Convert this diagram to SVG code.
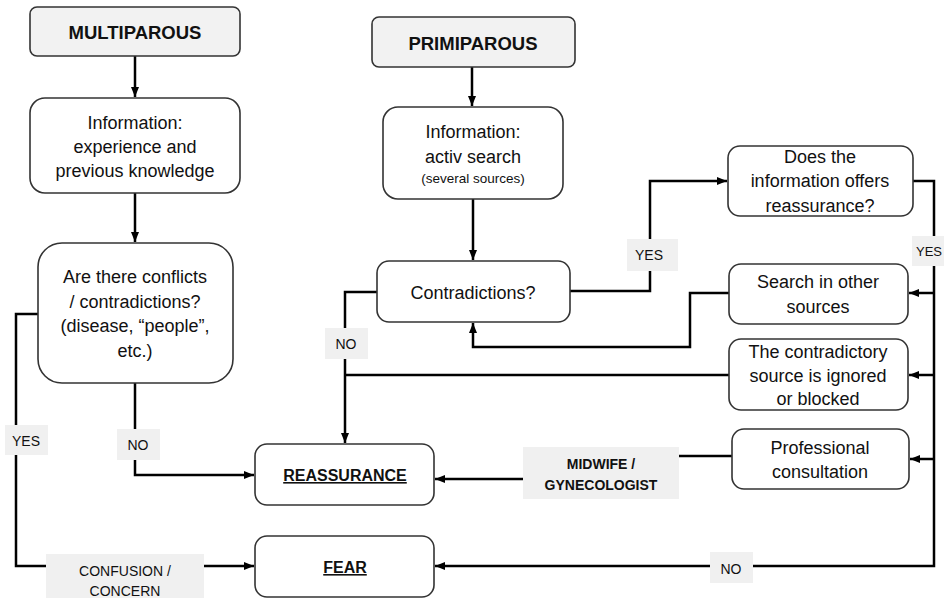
<svg xmlns="http://www.w3.org/2000/svg" width="944" height="598" viewBox="0 0 944 598">
  <defs>
    <marker id="arr" viewBox="0 0 10 10" refX="10" refY="5" markerWidth="4" markerHeight="4" orient="auto-start-reverse" markerUnits="strokeWidth">
      <path d="M0,1 L10,5 L0,9 z" fill="#000"/>
    </marker>
    <style>
      .box { fill: #fff; stroke: #333; stroke-width: 1.6; }
      .head { fill: #f2f2f2; stroke: #333; stroke-width: 1.6; }
      .lab { fill: #f0f0f0; stroke: none; }
      .t { font-family: "Liberation Sans", Arial, sans-serif; font-size: 18px; fill: #111; text-anchor: middle; }
      .b { font-weight: bold; }
      .s { font-size: 13.5px; }
      .l { font-family: "Liberation Sans", Arial, sans-serif; font-size: 14px; fill: #111; text-anchor: middle; }
      .u { text-decoration: underline; }
      .c { fill: none; stroke: #000; stroke-width: 2.5; }
    </style>
  </defs>
  <rect width="944" height="598" fill="#fff"/>

  <!-- connectors -->
  <g id="connectors">
    <path class="c" d="M135,56 V97" marker-end="url(#arr)"/>
    <path class="c" d="M472,67 V106" marker-end="url(#arr)"/>
    <path class="c" d="M135,193 V242" marker-end="url(#arr)"/>
    <path class="c" d="M473,199 V260" marker-end="url(#arr)"/>
    <!-- conflicts: YES -> fear -->
    <path class="c" d="M38,314 H16 V566 H254" marker-end="url(#arr)"/>
    <!-- conflicts: NO -> reassurance -->
    <path class="c" d="M135,383 V475 H254" marker-end="url(#arr)"/>
    <!-- contradictions: NO -> reassurance -->
    <path class="c" d="M377,292 H345 V443" marker-end="url(#arr)"/>
    <!-- contradictions: YES -> does the information -->
    <path class="c" d="M570,291 H650 V181 H727" marker-end="url(#arr)"/>
    <!-- right trunk -->
    <path class="c" d="M913,181 H934 V566 H435" marker-end="url(#arr)"/>
    <path class="c" d="M934,293 H909" marker-end="url(#arr)"/>
    <path class="c" d="M934,375 H909" marker-end="url(#arr)"/>
    <path class="c" d="M934,459 H910" marker-end="url(#arr)"/>
    <!-- search in other sources -> contradictions -->
    <path class="c" d="M729,293 H690 V347 H473 V323" marker-end="url(#arr)"/>
    <!-- ignored source -> no branch -->
    <path class="c" d="M729,375 H345"/>
    <!-- professional consultation -> reassurance -->
    <path class="c" d="M732,456 H679"/>
    <path class="c" d="M523,479 H435" marker-end="url(#arr)"/>
  </g>

  <!-- edge labels -->
  <g id="labels">
    <rect class="lab" x="5" y="425" width="43" height="30"/>
    <text class="l" x="26" y="446">YES</text>
    <rect class="lab" x="117" y="429" width="43" height="31"/>
    <text class="l" x="138" y="450">NO</text>
    <rect class="lab" x="325" y="328" width="43" height="31"/>
    <text class="l" x="346" y="349">NO</text>
    <rect class="lab" x="627" y="239" width="51" height="32"/>
    <text class="l" x="649" y="260">YES</text>
    <rect class="lab" x="912" y="236" width="32" height="30"/>
    <text class="l" x="916" y="256" style="text-anchor:start;font-size:13px">YES</text>
    <rect class="lab" x="46" y="554" width="158" height="50"/>
    <text class="l" x="125" y="576">CONFUSION /</text>
    <text class="l" x="125" y="596">CONCERN</text>
    <rect class="lab" x="523" y="447" width="156" height="52"/>
    <text class="l b" x="601" y="469">MIDWIFE /</text>
    <text class="l b" x="601" y="490">GYNECOLOGIST</text>
    <rect class="lab" x="710" y="552" width="43" height="31"/>
    <text class="l" x="731" y="574">NO</text>
  </g>

  <g id="multiparous">
    <rect class="head" x="30" y="7" width="210" height="49" rx="7"/>
    <text class="t b" x="135" y="39" style="font-size:18.5px">MULTIPAROUS</text>
  </g>

  <g id="primiparous">
    <rect class="head" x="372" y="17" width="203" height="50" rx="7"/>
    <text class="t b" x="473" y="50" style="font-size:18.5px">PRIMIPAROUS</text>
  </g>

  <g id="info-experience">
    <rect class="box" x="30" y="98" width="210" height="95" rx="15"/>
    <text class="t" x="135" y="129">Information:</text>
    <text class="t" x="135" y="153">experience and</text>
    <text class="t" x="135" y="177">previous knowledge</text>
  </g>

  <g id="info-search">
    <rect class="box" x="383" y="107" width="180" height="92" rx="15"/>
    <text class="t" x="473" y="138">Information:</text>
    <text class="t" x="473" y="163">activ search</text>
    <text class="t s" x="473" y="183">(several sources)</text>
  </g>

  <g id="conflicts">
    <rect class="box" x="38" y="243" width="195" height="140" rx="24"/>
    <text class="t" x="135" y="283">Are there conflicts</text>
    <text class="t" x="135" y="308">/ contradictions?</text>
    <text class="t" x="135" y="332">(disease, “people”,</text>
    <text class="t" x="135" y="357">etc.)</text>
  </g>

  <g id="contradictions">
    <rect class="box" x="377" y="261" width="193" height="61" rx="12"/>
    <text class="t" x="473" y="299">Contradictions?</text>
  </g>

  <g id="offers-reassurance">
    <rect class="box" x="728" y="146" width="185" height="70" rx="12"/>
    <text class="t" x="820" y="163">Does the</text>
    <text class="t" x="820" y="187">information offers</text>
    <text class="t" x="820" y="212">reassurance?</text>
  </g>

  <g id="search-other">
    <rect class="box" x="729" y="264" width="179" height="60" rx="12"/>
    <text class="t" x="818" y="288">Search in other</text>
    <text class="t" x="818" y="313">sources</text>
  </g>

  <g id="ignored-source">
    <rect class="box" x="729" y="339" width="179" height="71" rx="12"/>
    <text class="t" x="818" y="358">The contradictory</text>
    <text class="t" x="818" y="382">source is ignored</text>
    <text class="t" x="818" y="405">or blocked</text>
  </g>

  <g id="professional">
    <rect class="box" x="732" y="429" width="177" height="60" rx="12"/>
    <text class="t" x="820" y="454">Professional</text>
    <text class="t" x="820" y="478">consultation</text>
  </g>

  <g id="reassurance">
    <rect class="box" x="255" y="444" width="179" height="61" rx="12"/>
    <text class="t b u" x="345" y="481" style="font-size:16px">REASSURANCE</text>
  </g>

  <g id="fear">
    <rect class="box" x="255" y="536" width="179" height="61" rx="12"/>
    <text class="t b u" x="345" y="573" style="font-size:16px">FEAR</text>
  </g>
</svg>
